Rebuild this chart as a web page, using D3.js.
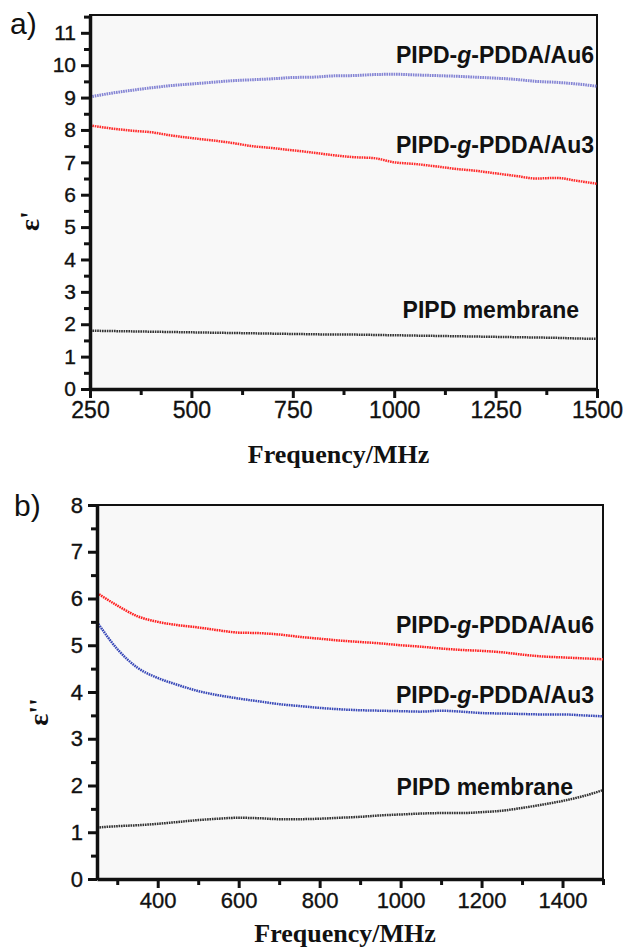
<!doctype html>
<html lang="en">
<head>
<meta charset="utf-8">
<title>Permittivity vs frequency</title>
<script src="https://d3js.org/d3.v7.min.js"></script>
<style>
  body { margin: 0; background: #fff; }
  .tick text { font-family: "Liberation Sans", Arial, sans-serif; fill: #111; stroke: #111; stroke-width: 0.35px; }
  .lbl { font-family: "Liberation Sans", Arial, sans-serif; font-weight: bold; font-size: 23px; fill: #111; }
  .ttl { font-family: "Liberation Serif", "Times New Roman", serif; font-weight: bold; fill: #111; }
</style>
</head>
<body>
<script>
// frequency grid (MHz), shared by every curve
const freq = [250, 300, 350, 400, 450, 500, 550, 600, 650, 700, 750, 800, 850, 900,
              950, 1000, 1050, 1100, 1150, 1200, 1250, 1300, 1350, 1400, 1450, 1500];

// a) real part eps'
const a_au6  = [9.02, 9.13, 9.22, 9.30, 9.37, 9.42, 9.47, 9.52, 9.55, 9.58, 9.62, 9.63, 9.67,
                9.68, 9.71, 9.72, 9.70, 9.68, 9.66, 9.63, 9.60, 9.56, 9.50, 9.47, 9.42, 9.35];
const a_au3  = [8.14, 8.05, 7.98, 7.93, 7.83, 7.75, 7.68, 7.60, 7.50, 7.44, 7.37, 7.30, 7.22,
                7.16, 7.13, 7.00, 6.95, 6.88, 6.80, 6.74, 6.66, 6.58, 6.50, 6.52, 6.43, 6.34];
const a_pipd = [1.80, 1.79, 1.78, 1.77, 1.76, 1.75, 1.74, 1.73, 1.72, 1.71, 1.70, 1.69, 1.68,
                1.68, 1.67, 1.66, 1.65, 1.64, 1.63, 1.62, 1.61, 1.60, 1.59, 1.58, 1.56, 1.55];

// b) imaginary part eps''
const b_au6  = [6.12, 5.85, 5.62, 5.50, 5.43, 5.38, 5.32, 5.27, 5.26, 5.23, 5.18, 5.14, 5.10,
                5.07, 5.04, 5.00, 4.97, 4.93, 4.90, 4.88, 4.85, 4.80, 4.76, 4.74, 4.72, 4.70];
const b_au3  = [5.50, 4.92, 4.52, 4.30, 4.15, 4.02, 3.93, 3.86, 3.80, 3.74, 3.70, 3.66, 3.63,
                3.61, 3.60, 3.59, 3.58, 3.60, 3.58, 3.55, 3.54, 3.53, 3.52, 3.52, 3.50, 3.48];
const b_pipd = [1.10, 1.13, 1.15, 1.18, 1.22, 1.26, 1.29, 1.31, 1.30, 1.28, 1.28, 1.29, 1.31,
                1.33, 1.36, 1.38, 1.40, 1.41, 1.41, 1.43, 1.46, 1.52, 1.59, 1.67, 1.77, 1.90];

const labelAu6 = ["PIPD-", "g", "-PDDA/Au6"];
const labelAu3 = ["PIPD-", "g", "-PDDA/Au3"];
const labelPipd = "PIPD membrane";

const svg = d3.select("body").append("svg")
    .attr("width", 624)
    .attr("height", 949);

function drawPanel(p) {
    const x = d3.scaleLinear().domain(p.xDomain).range([p.left, p.right]);
    const y = d3.scaleLinear().domain(p.yDomain).range([p.bottom, p.top]);

    // plot background + thin frame
    svg.append("rect")
        .attr("x", p.left).attr("y", p.top)
        .attr("width", p.right - p.left).attr("height", p.bottom - p.top)
        .attr("fill", "#f8f8f8")
        .attr("stroke", "#111").attr("stroke-width", 2);

    // curves, drawn as dense dotted lines
    const line = d3.line()
        .x((d, i) => x(freq[i]))
        .y(d => y(d))
        .curve(d3.curveMonotoneX);
    p.series.forEach(s => {
        svg.append("path")
            .datum(s.values)
            .attr("d", line)
            .attr("fill", "none")
            .attr("stroke", s.color)
            .attr("stroke-width", s.width)
            .attr("stroke-dasharray", "1.6,0.8");
    });

    // minor ticks
    svg.append("g")
        .attr("transform", "translate(0," + p.bottom + ")")
        .call(d3.axisBottom(x).tickValues(p.xMinor).tickSize(6).tickFormat(""))
        .call(g => g.select(".domain").remove())
        .selectAll("line").attr("stroke-width", 3).attr("stroke", "#111");
    svg.append("g")
        .attr("transform", "translate(" + p.left + ",0)")
        .call(d3.axisLeft(y).tickValues(p.yMinor).tickSize(6).tickFormat(""))
        .call(g => g.select(".domain").remove())
        .selectAll("line").attr("stroke-width", 3).attr("stroke", "#111");

    // major ticks + labels
    const fmt = d3.format("d");
    const xa = svg.append("g")
        .attr("transform", "translate(0," + p.bottom + ")")
        .call(d3.axisBottom(x).tickValues(p.xMajor).tickFormat(fmt)
            .tickSize(9).tickSizeOuter(0).tickPadding(4));
    xa.selectAll("text").style("font-size", p.xFont + "px");
    const ya = svg.append("g")
        .attr("transform", "translate(" + p.left + ",0)")
        .call(d3.axisLeft(y).tickValues(p.yMajor).tickFormat(fmt)
            .tickSize(9).tickSizeOuter(0).tickPadding(5));
    ya.selectAll("text").style("font-size", p.yFont + "px");
    [xa, ya].forEach(g => {
        g.selectAll("line").attr("stroke-width", 3).attr("stroke", "#111");
        g.select(".domain").attr("stroke-width", 3.5).attr("stroke", "#111");
    });

    // series labels
    p.labels.forEach(l => {
        const t = svg.append("text")
            .attr("class", "lbl")
            .attr("x", l.x).attr("y", l.y)
            .attr("text-anchor", "end");
        if (Array.isArray(l.text)) {
            t.append("tspan").text(l.text[0]);
            t.append("tspan").attr("font-style", "italic").text(l.text[1]);
            t.append("tspan").text(l.text[2]);
        } else {
            t.text(l.text);
        }
    });

    // axis titles and panel letter
    svg.append("text")
        .attr("class", "ttl")
        .attr("x", (p.left + p.right) / 2 - 5).attr("y", p.xTitleY)
        .attr("text-anchor", "middle")
        .style("font-size", "26px")
        .text("Frequency/MHz");
    svg.append("text")
        .attr("class", "ttl")
        .attr("transform", "translate(" + p.yTitleX + "," + p.yTitleY + ") rotate(-90)")
        .attr("text-anchor", "middle")
        .style("font-size", "28px")
        .text(p.yTitle);
    svg.append("text")
        .attr("x", p.letterX).attr("y", p.letterY)
        .style("font-family", "Liberation Sans, Arial, sans-serif")
        .style("font-size", "30px")
        .attr("fill", "#111")
        .text(p.letter);
}

drawPanel({
    left: 90, right: 597, top: 15, bottom: 389,
    xDomain: [250, 1500], yDomain: [0, 11.55],
    xMajor: [250, 500, 750, 1000, 1250, 1500],
    xMinor: [375, 625, 875, 1125, 1375],
    yMajor: d3.range(0, 12, 1),
    yMinor: d3.range(0.5, 11.6, 1),
    xFont: 23, yFont: 21,
    series: [
        {values: a_au6, color: "#8484d4", width: 3},
        {values: a_au3, color: "#ff2a2a", width: 2.5},
        {values: a_pipd, color: "#333333", width: 2.5}
    ],
    labels: [
        {text: labelAu6, x: 594, y: 63},
        {text: labelAu3, x: 594, y: 153},
        {text: labelPipd, x: 579, y: 318}
    ],
    xTitleY: 463, yTitleX: 39, yTitleY: 221, yTitle: "\u03b5'",
    letter: "a)", letterX: 10, letterY: 34
});

drawPanel({
    left: 97, right: 603, top: 505, bottom: 879,
    xDomain: [250, 1500], yDomain: [0, 8],
    xMajor: [400, 600, 800, 1000, 1200, 1400],
    xMinor: [300, 500, 700, 900, 1100, 1300, 1500],
    yMajor: d3.range(0, 9, 1),
    yMinor: d3.range(0.5, 8, 1),
    xFont: 22, yFont: 22,
    series: [
        {values: b_au6, color: "#ff2020", width: 2.5},
        {values: b_au3, color: "#3848b8", width: 2.5},
        {values: b_pipd, color: "#333333", width: 2.5}
    ],
    labels: [
        {text: labelAu6, x: 594, y: 633},
        {text: labelAu3, x: 594, y: 703},
        {text: labelPipd, x: 573, y: 795}
    ],
    xTitleY: 942, yTitleX: 48, yTitleY: 712, yTitle: "\u03b5''",
    letter: "b)", letterX: 14, letterY: 516
});
</script>
</body>
</html>
